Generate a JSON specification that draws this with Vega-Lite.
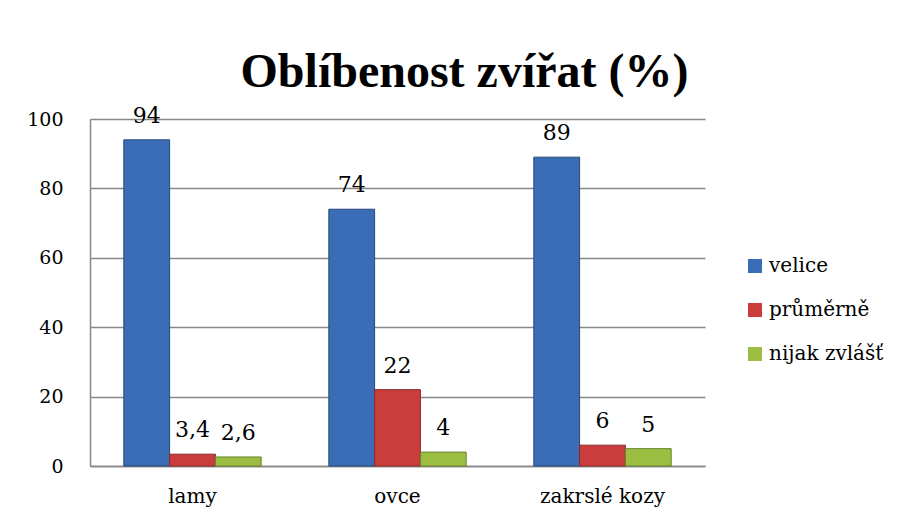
{
  "$schema": "https://vega.github.io/schema/vega-lite/v6.json",
  "width": 615,
  "height": 347,
  "autosize": "none",
  "padding": {"left": 90, "top": 119, "right": 202, "bottom": 53},
  "background": "white",
  "title": {
    "text": "Oblíbenost zvířat (%)",
    "font": "Liberation Serif",
    "fontSize": 48,
    "fontWeight": "bold",
    "color": "black",
    "anchor": "middle",
    "frame": "group",
    "baseline": "alphabetic",
    "dx": 67,
    "dy": 53,
    "offset": 23
  },
  "data": {
    "values": [
      {"kategorie": "lamy", "hodnoceni": "velice", "hodnota": 94, "popisek": "94"},
      {"kategorie": "lamy", "hodnoceni": "průměrně", "hodnota": 3.4, "popisek": "3,4"},
      {"kategorie": "lamy", "hodnoceni": "nijak zvlášť", "hodnota": 2.6, "popisek": "2,6"},
      {"kategorie": "ovce", "hodnoceni": "velice", "hodnota": 74, "popisek": "74"},
      {"kategorie": "ovce", "hodnoceni": "průměrně", "hodnota": 22, "popisek": "22"},
      {"kategorie": "ovce", "hodnoceni": "nijak zvlášť", "hodnota": 4, "popisek": "4"},
      {"kategorie": "zakrslé kozy", "hodnoceni": "velice", "hodnota": 89, "popisek": "89"},
      {"kategorie": "zakrslé kozy", "hodnoceni": "průměrně", "hodnota": 6, "popisek": "6"},
      {"kategorie": "zakrslé kozy", "hodnoceni": "nijak zvlášť", "hodnota": 5, "popisek": "5"}
    ]
  },
  "encoding": {
    "x": {
      "field": "kategorie",
      "type": "nominal",
      "sort": ["lamy", "ovce", "zakrslé kozy"],
      "scale": {"paddingInner": 0.33, "paddingOuter": 0.165},
      "axis": {
        "title": null,
        "labelAngle": 0,
        "labelFont": "DejaVu Serif",
        "labelFontSize": 20,
        "labelColor": "black",
        "labelPadding": 20,
        "ticks": false,
        "domainColor": "#878787",
        "domainWidth": 1.5
      }
    },
    "xOffset": {
      "field": "hodnoceni",
      "type": "nominal",
      "sort": ["velice", "průměrně", "nijak zvlášť"],
      "scale": {"paddingInner": 0, "paddingOuter": 0}
    },
    "y": {
      "field": "hodnota",
      "type": "quantitative",
      "scale": {"domain": [0, 100], "nice": false},
      "axis": {
        "title": null,
        "values": [0, 20, 40, 60, 80, 100],
        "labelFont": "DejaVu Serif",
        "labelFontSize": 19,
        "labelColor": "black",
        "labelPadding": 27,
        "ticks": false,
        "grid": true,
        "gridColor": "#878787",
        "gridWidth": 1.5,
        "domainColor": "#878787",
        "domainWidth": 1.5
      }
    }
  },
  "layer": [
    {
      "mark": {"type": "bar", "strokeWidth": 1},
      "encoding": {
        "color": {
          "field": "hodnoceni",
          "type": "nominal",
          "sort": ["velice", "průměrně", "nijak zvlášť"],
          "scale": {"domain": ["velice", "průměrně", "nijak zvlášť"], "range": ["#3A6DB5", "#CA3D3D", "#9BBE42"]},
          "legend": {
            "title": null,
            "orient": "none",
            "legendX": 655,
            "legendY": 137,
            "symbolType": "square",
            "symbolSize": 196,
            "symbolStrokeWidth": 0,
            "labelFont": "DejaVu Serif",
            "labelFontSize": 20,
            "labelColor": "black",
            "labelOffset": 4,
            "rowPadding": 24
          }
        },
        "stroke": {
          "field": "hodnoceni",
          "type": "nominal",
          "scale": {"domain": ["velice", "průměrně", "nijak zvlášť"], "range": ["#24497D", "#8A2828", "#66852A"]},
          "legend": null
        }
      }
    },
    {
      "mark": {"type": "text", "font": "DejaVu Serif", "fontSize": 22, "color": "black", "baseline": "alphabetic", "dy": -17},
      "encoding": {
        "text": {"field": "popisek", "type": "nominal"}
      }
    }
  ],
  "config": {
    "view": {"stroke": null}
  }
}
